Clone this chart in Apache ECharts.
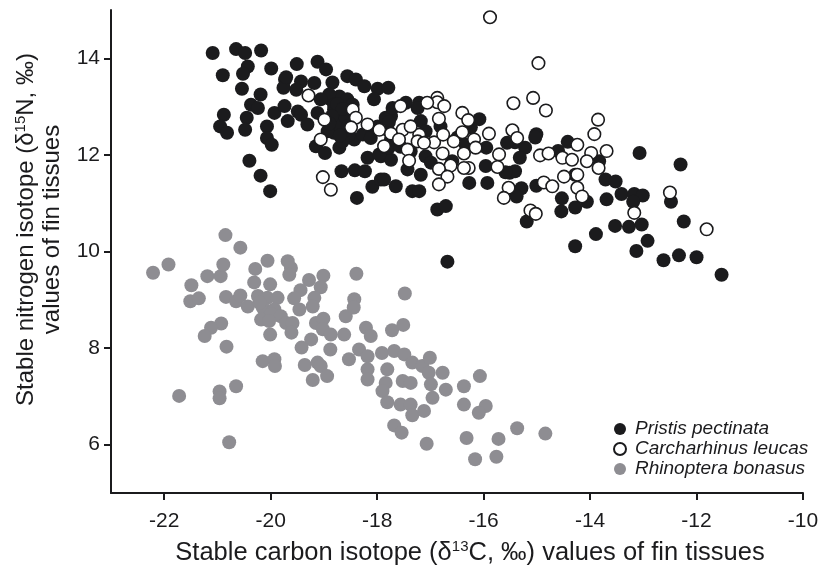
<!DOCTYPE html>
<html>
<head>
<meta charset="utf-8">
<script src="https://cdn.jsdelivr.net/npm/echarts@6/dist/echarts.min.js"></script>
<style>
  html, body { margin: 0; padding: 0; background: #fff; }
  #chart { width: 824px; height: 566px; }
</style>
</head>
<body>
<div id="chart"></div>
<script>
// tick labels
const xTicks = [-22, -20, -18, -16, -14, -12, -10]
const yTicks = [6, 8, 10, 12, 14]

// [d13C, d15N]
const pristis = [
  [-21.09, 14.11], [-20.65, 14.19], [-20.48, 14.11], [-20.18, 14.16], [-20.90, 13.65], [-20.43, 13.83],
  [-20.52, 13.68], [-19.99, 13.79], [-20.54, 13.37], [-19.51, 13.88], [-19.12, 13.93], [-18.96, 13.77],
  [-19.73, 13.56], [-19.76, 13.39], [-19.43, 13.52], [-19.18, 13.49], [-18.84, 13.50], [-18.56, 13.63],
  [-18.40, 13.56], [-18.24, 13.42], [-17.99, 13.37], [-17.79, 13.39], [-20.19, 13.25], [-20.37, 13.04],
  [-20.24, 12.97], [-19.93, 12.87], [-19.74, 13.01], [-19.49, 12.90], [-19.43, 12.83], [-19.68, 12.70],
  [-19.31, 12.63], [-19.12, 12.87], [-18.87, 13.15], [-18.71, 13.21], [-18.81, 12.94], [-18.68, 12.87],
  [-18.56, 13.15], [-18.77, 12.73], [-18.62, 12.52], [-18.81, 12.46], [-18.43, 12.32], [-18.18, 12.46],
  [-18.06, 13.15], [-17.99, 12.59], [-17.74, 12.80], [-17.81, 12.52], [-20.88, 12.83], [-20.95, 12.59],
  [-20.82, 12.46], [-20.45, 12.77], [-20.48, 12.52], [-20.07, 12.59], [-20.07, 12.35], [-19.98, 12.21],
  [-19.15, 12.18], [-18.98, 12.04], [-18.71, 12.15], [-20.40, 11.88], [-20.19, 11.57], [-20.01, 11.25],
  [-18.67, 11.66], [-18.42, 11.68], [-18.23, 11.66], [-18.38, 11.11], [-18.09, 11.34], [-17.93, 11.49],
  [-17.65, 11.35], [-18.18, 11.94], [-17.93, 11.97], [-17.74, 11.90], [-17.74, 12.32], [-17.43, 11.70],
  [-17.34, 11.25], [-17.21, 11.25], [-17.18, 11.59], [-17.09, 11.97], [-16.99, 11.84], [-16.87, 10.87],
  [-16.71, 10.94], [-17.46, 13.08], [-17.21, 13.08], [-17.18, 12.70], [-17.24, 12.97], [-16.08, 12.74],
  [-15.01, 12.43], [-15.03, 12.36], [-15.41, 12.26], [-15.22, 12.15], [-15.32, 11.94], [-15.95, 12.15],
  [-15.96, 11.77], [-16.27, 11.42], [-15.93, 11.42], [-15.51, 11.63], [-15.41, 11.66], [-15.29, 11.31],
  [-15.38, 11.14], [-15.01, 11.36], [-14.60, 12.08], [-14.42, 12.27], [-14.53, 11.10], [-14.54, 10.83],
  [-14.28, 10.91], [-14.06, 11.03], [-14.28, 11.59], [-13.71, 11.49], [-13.52, 11.45], [-13.83, 11.87],
  [-13.69, 11.08], [-13.41, 11.19], [-13.17, 11.19], [-13.01, 11.16], [-13.19, 11.03], [-13.07, 12.04],
  [-12.30, 11.80], [-12.48, 11.03], [-12.24, 10.62], [-13.53, 10.53], [-13.27, 10.51], [-13.03, 10.56],
  [-12.92, 10.22], [-13.13, 10.01], [-13.89, 10.36], [-14.28, 10.11], [-12.62, 9.82], [-12.33, 9.92],
  [-12.00, 9.88], [-11.53, 9.52], [-16.68, 9.79], [-15.19, 10.62], [-19.71, 13.61], [-19.52, 13.35],
  [-18.90, 13.25], [-18.71, 12.63], [-18.93, 12.49], [-18.53, 12.42], [-18.65, 12.28], [-18.27, 12.42],
  [-18.12, 12.35], [-18.02, 12.56], [-17.96, 12.01], [-17.78, 12.15], [-17.84, 12.77], [-17.71, 12.97],
  [-17.87, 11.49], [-16.59, 11.87], [-17.09, 12.49], [-17.78, 12.68], [-16.81, 12.59], [-15.56, 12.25],
  [-15.59, 11.64], [-18.81, 13.04], [-18.59, 12.77], [-18.46, 13.04], [-19.06, 13.15], [-16.49, 12.36],
  [-16.24, 12.57], [-16.34, 12.21], [-17.56, 12.17], [-17.37, 12.07], [-18.75, 13.05], [-18.65, 12.95],
  [-18.85, 12.80], [-18.55, 12.60], [-18.70, 12.40], [-18.90, 12.65]
]

const carcharhinus = [
  [-15.88, 14.85], [-14.97, 13.90], [-15.44, 13.07], [-15.07, 13.18], [-14.83, 12.92], [-13.85, 12.73],
  [-13.92, 12.43], [-13.69, 12.08], [-12.50, 11.22], [-11.81, 10.46], [-19.29, 13.23], [-18.99, 12.73],
  [-19.06, 12.32], [-19.02, 11.54], [-18.87, 11.28], [-18.46, 12.94], [-18.40, 12.77], [-18.49, 12.57],
  [-18.18, 12.63], [-17.96, 12.52], [-17.74, 12.44], [-17.87, 12.18], [-17.56, 13.01], [-16.87, 13.18],
  [-16.87, 13.09], [-16.74, 13.01], [-17.06, 13.08], [-16.84, 12.75], [-16.40, 12.87], [-16.29, 12.72],
  [-17.52, 12.52], [-17.59, 12.32], [-17.43, 12.11], [-17.21, 12.42], [-17.24, 12.28], [-17.37, 12.59],
  [-16.93, 12.26], [-16.76, 12.42], [-16.56, 12.28], [-16.40, 12.47], [-16.18, 12.32], [-16.15, 12.15],
  [-15.90, 12.44], [-16.37, 12.03], [-16.77, 12.03], [-17.40, 11.88], [-16.62, 11.78], [-16.84, 11.71],
  [-16.28, 11.73], [-16.37, 11.73], [-15.71, 12.01], [-15.74, 11.75], [-16.68, 11.55], [-16.84, 11.39],
  [-15.46, 12.51], [-15.37, 12.35], [-14.94, 11.99], [-14.78, 12.03], [-14.52, 11.94], [-14.34, 11.90],
  [-14.24, 12.21], [-14.49, 11.55], [-14.24, 11.59], [-14.87, 11.43], [-14.71, 11.35], [-15.53, 11.32],
  [-15.62, 11.11], [-14.24, 11.32], [-15.12, 10.85], [-15.02, 10.78], [-13.98, 12.04], [-14.06, 11.87],
  [-13.84, 11.73], [-14.15, 11.14], [-13.17, 10.80], [-17.12, 12.25]
]

const rhinoptera = [
  [-20.85, 10.34], [-20.57, 10.08], [-22.21, 9.56], [-21.92, 9.73], [-21.49, 9.30], [-21.51, 8.97],
  [-21.35, 9.03], [-21.19, 9.49], [-20.94, 9.49], [-20.89, 9.73], [-20.84, 9.06], [-20.65, 8.97],
  [-20.57, 9.09], [-20.43, 8.86], [-20.29, 9.64], [-20.31, 9.36], [-20.06, 9.81], [-20.01, 9.32],
  [-19.68, 9.80], [-19.62, 9.66], [-19.65, 9.52], [-19.28, 9.41], [-19.01, 9.50], [-19.06, 9.26],
  [-18.39, 9.54], [-20.24, 9.08], [-20.06, 9.04], [-19.87, 9.04], [-20.15, 8.84], [-19.93, 8.80],
  [-20.18, 8.59], [-19.99, 8.70], [-19.81, 8.66], [-19.71, 8.52], [-19.59, 8.52], [-19.61, 8.32],
  [-20.01, 8.28], [-19.44, 9.20], [-19.56, 9.03], [-19.46, 8.80], [-19.18, 9.04], [-19.21, 8.86],
  [-19.15, 8.52], [-19.01, 8.61], [-19.02, 8.39], [-18.87, 8.28], [-19.24, 8.18], [-18.88, 7.97],
  [-19.42, 8.01], [-18.62, 8.28], [-18.59, 8.66], [-18.43, 9.01], [-18.44, 8.84], [-18.21, 8.42],
  [-18.12, 8.25], [-18.34, 7.97], [-18.18, 7.83], [-18.53, 7.77], [-19.36, 7.65], [-19.12, 7.70],
  [-19.06, 7.63], [-18.94, 7.42], [-19.21, 7.34], [-20.15, 7.73], [-19.93, 7.77], [-19.92, 7.63],
  [-20.93, 8.51], [-21.12, 8.42], [-21.24, 8.25], [-20.83, 8.03], [-21.72, 7.01], [-20.96, 7.10],
  [-20.96, 6.96], [-20.65, 7.21], [-20.78, 6.05], [-17.48, 9.13], [-17.72, 8.37], [-17.51, 8.48],
  [-17.91, 7.90], [-17.68, 7.94], [-17.49, 7.87], [-17.34, 7.70], [-17.15, 7.63], [-17.01, 7.80],
  [-18.18, 7.56], [-18.18, 7.35], [-17.81, 7.56], [-17.84, 7.28], [-17.90, 7.11], [-17.52, 7.32],
  [-17.37, 7.28], [-17.03, 7.49], [-16.99, 7.25], [-16.96, 6.97], [-16.77, 7.49], [-16.71, 7.14],
  [-17.81, 6.88], [-17.56, 6.83], [-17.37, 6.83], [-17.34, 6.61], [-17.12, 6.70], [-17.68, 6.40],
  [-17.54, 6.25], [-17.07, 6.02], [-16.37, 7.21], [-16.07, 7.42], [-16.37, 6.83], [-15.96, 6.80],
  [-16.09, 6.66], [-16.32, 6.14], [-15.72, 6.12], [-15.37, 6.34], [-16.16, 5.70], [-15.76, 5.75],
  [-14.84, 6.23], [-20.21, 8.94], [-20.03, 8.56]
]

const font = 'Liberation Sans, Arial, sans-serif'
const ink = '#1b1b1d'
const grey = '#8e8d92'

const chart = echarts.init(document.getElementById('chart'))

function nameStyle(size, lh) {
  return {
    fontFamily: font,
    fontSize: size,
    color: ink,
    lineHeight: lh,
    rich: {
      sup: { fontFamily: font, fontSize: 15, color: ink, verticalAlign: 'top', lineHeight: lh }
    }
  }
}

const axisCommon = {
  type: 'value',
  splitLine: { show: false },
  axisLine: { show: true, onZero: false, lineStyle: { color: ink, width: 2 } },
  nameLocation: 'middle'
}

chart.setOption({
  animation: false,
  grid: { left: 111, right: 21, top: 10, bottom: 73, outerBoundsMode: 'none' },
  legend: {
    orient: 'vertical',
    left: 608,
    top: 414,
    itemWidth: 20,
    itemHeight: 12,
    itemGap: 0,
    icon: 'circle',
    data: ['Pristis pectinata', 'Carcharhinus leucas', 'Rhinoptera bonasus'],
    textStyle: { fontFamily: font, fontSize: 19, lineHeight: 20, fontStyle: 'italic', color: ink }
  },
  xAxis: Object.assign({}, axisCommon, {
    min: -23,
    max: -10,
    name: 'Stable carbon isotope (δ{sup|13}C, ‰) values of fin tissues',
    nameGap: 46,
    nameTextStyle: Object.assign(nameStyle(25.5, 28), { padding: [0, 0, 0, 26] }),
    axisTick: { show: true, length: 7, customValues: xTicks, lineStyle: { color: ink, width: 2 } },
    axisLabel: { customValues: xTicks, fontFamily: font, fontSize: 21, color: ink, margin: 18 }
  }),
  yAxis: Object.assign({}, axisCommon, {
    min: 5,
    max: 15,
    name: 'Stable nitrogen isotope (δ{sup|15}N, ‰)\nvalues of fin tissues',
    nameGap: 30,
    nameTextStyle: Object.assign(nameStyle(24, 26), { padding: [0, 0, 0, 44] }),
    axisTick: { show: true, length: 7, customValues: yTicks, lineStyle: { color: ink, width: 2 } },
    axisLabel: { customValues: yTicks, fontFamily: font, fontSize: 21, color: ink, margin: 11 }
  }),
  series: [
    {
      name: 'Rhinoptera bonasus',
      type: 'scatter',
      data: rhinoptera,
      symbolSize: 14,
      itemStyle: { color: grey, opacity: 1 },
      emphasis: { disabled: true },
      z: 2
    },
    {
      name: 'Pristis pectinata',
      type: 'scatter',
      data: pristis,
      symbolSize: 14,
      itemStyle: { color: ink, opacity: 1 },
      emphasis: { disabled: true },
      z: 3
    },
    {
      name: 'Carcharhinus leucas',
      type: 'scatter',
      data: carcharhinus,
      symbolSize: 12.5,
      itemStyle: { color: '#fff', borderColor: ink, borderWidth: 1.6, opacity: 1 },
      emphasis: { disabled: true },
      z: 4
    }
  ]
})
</script>
</body>
</html>
